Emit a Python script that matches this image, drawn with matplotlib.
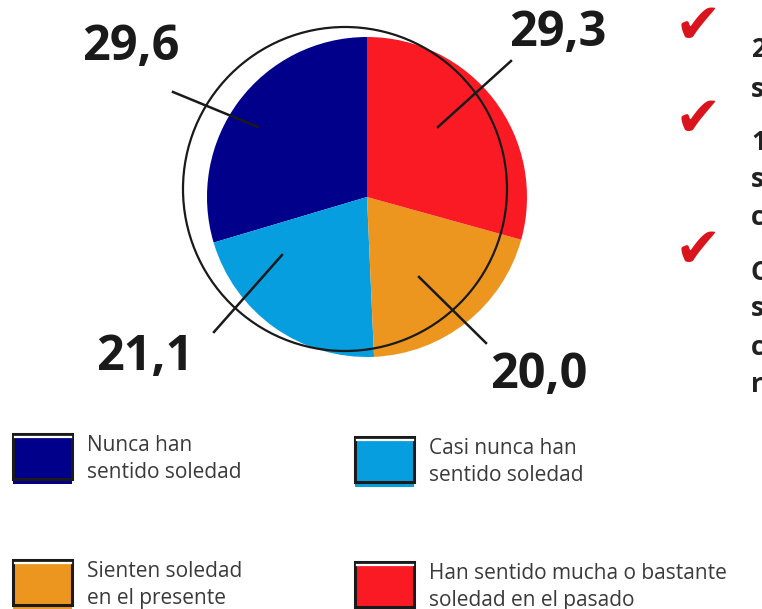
import matplotlib.pyplot as plt
from matplotlib.patches import Circle, Rectangle

# datos
categorias = ["Nunca han\nsentido soledad",
              "Casi nunca han\nsentido soledad",
              "Sienten soledad\nen el presente",
              "Han sentido mucha o bastante\nsoledad en el pasado"]
valores = [29.6, 21.1, 20.0, 29.3]
etiquetas = ["29,6", "21,1", "20,0", "29,3"]
colores = ["#00008a", "#069ede", "#ec961f", "#fa1a24"]

plt.rcParams['font.family'] = ['Open Sans', 'DejaVu Sans']

fig = plt.figure(figsize=(7.62, 6.09), dpi=100)
ax = fig.add_axes([0, 0, 1, 1])

# pie (y invertido -> sentido antihorario visual)
ax.pie(valores, colors=colores, startangle=-90, counterclock=False,
       center=(367, 197), radius=160, wedgeprops=dict(linewidth=0))
ax.set_xlim(0, 762)
ax.set_ylim(609, 0)
ax.set_aspect('equal')
ax.axis('off')

# circulo desplazado
ax.add_patch(Circle((345, 189), 162, fill=False, lw=1.6, ec='#1a1a1a', zorder=3))

# lineas guia y numeros
lineas = [((258, 127), (173, 92)),
          ((282, 255), (214, 332)),
          ((419, 277), (486, 343)),
          ((438, 127), (511, 61))]
pos_txt = [(131, 47), (145, 357), (539, 376), (558, 33)]
for (p1, p2), (tx, ty), lab in zip(lineas, pos_txt, etiquetas):
    ax.plot([p1[0], p2[0]], [p1[1], p2[1]], color='#1a1a1a', lw=1.8, zorder=4)
    ax.text(tx, ty, lab, fontsize=35, fontweight='bold', color='#1a1a1a',
            ha='center', va='center')

# leyenda
cajas = [(13, 434), (355, 437), (13, 560), (355, 562)]
for (bx, by), col, cat in zip(cajas, colores, categorias):
    ax.add_patch(Rectangle((bx, by + 4), 59, 46, fc=col, ec='none', zorder=2))
    ax.add_patch(Rectangle((bx, by), 59, 45, fc=col, ec='#1a1a1a', lw=2.2, zorder=3))
    ax.plot([bx + 1.5, bx + 57.5], [by + 3, by + 3], color='white', lw=1.6, zorder=4)
    ax.text(bx + 74, by + 1, cat, fontsize=15, color='#3a3a3a',
            ha='left', va='top', linespacing=1.38)

# checks y texto cortado a la derecha
for cy in [28, 121, 252]:
    ax.text(698, cy, "\u2714", fontsize=40, color='#d9141c',
            ha='center', va='center', family='DejaVu Sans')
lineas_der = [("2", 57), ("s", 97), ("1", 150), ("s", 187), ("c", 225),
              ("C", 280), ("s", 316), ("c", 355), ("r", 392)]
for ch, yb in lineas_der:
    ax.text(751, yb, ch, fontsize=19, fontweight='bold', color='#222222',
            ha='left', va='baseline')

fig.savefig("out.png", dpi=100)
